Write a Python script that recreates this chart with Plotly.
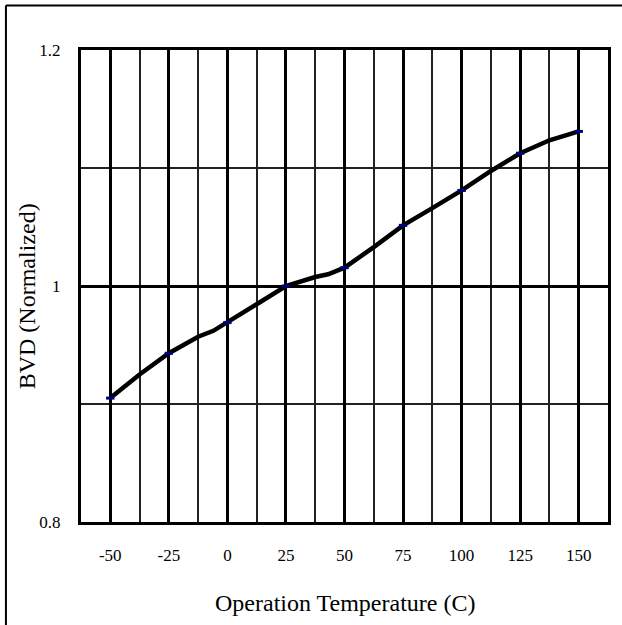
import plotly.graph_objects as go

# Data
temps_marker = [-50, -25, 0, 25, 50, 75, 100, 125, 150]
bvd_marker = [0.905, 0.943, 0.969, 1.0, 1.0155, 1.0514, 1.081, 1.1125, 1.131]

temps_line = [-50, -37.5, -25, -12.5, -6, 0, 12.5, 25, 37.5, 43, 50, 62.5, 75, 87.5, 100, 112.5, 125, 137.5, 150]
bvd_line = [0.905, 0.925, 0.943, 0.957, 0.962, 0.969, 0.9845, 1.0, 1.0076, 1.0099, 1.0155, 1.033,
            1.0514, 1.066, 1.081, 1.0975, 1.1125, 1.1235, 1.131]

x_ticks = [-50, -25, 0, 25, 50, 75, 100, 125, 150]
x_tick_text = ["-50", "-25", "0", "25", "50", "75", "100", "125", "150"]
y_ticks = [0.8, 1.0, 1.2]
y_tick_text = ["0.8", "1", "1.2"]

FONT = "Liberation Serif"

fig = go.Figure()
fig.add_trace(go.Scatter(x=temps_line, y=bvd_line, mode="lines",
                         line=dict(color="black", width=4.5), hoverinfo="skip"))
fig.add_trace(go.Scatter(x=temps_marker, y=bvd_marker, mode="markers",
                         marker=dict(symbol="line-ew", size=6,
                                     line=dict(width=3, color="#000080"))))

W, H = 622, 625
L, R, T, B = 81, 11, 50, 103
pw, ph = W - L - R, H - T - B

def px_x(px):
    return (px - L) / pw

def px_y(py):
    return (H - B - py) / ph

fig.update_layout(
    width=W, height=H,
    margin=dict(l=L, r=R, t=T, b=B),
    paper_bgcolor="white", plot_bgcolor="white",
    showlegend=False,
    font=dict(family=FONT, size=17, color="black"),
    xaxis=dict(range=[-62.5, 162.5], tickvals=x_ticks, ticktext=x_tick_text, ticks="",
               showgrid=True, gridcolor="black", gridwidth=3,
               minor=dict(dtick=12.5, tick0=-62.5, showgrid=True, gridcolor="#222222", gridwidth=1.5),
               showline=True, linecolor="black", linewidth=3, mirror=True,
               zeroline=False, ticklabelstandoff=16,
               tickfont=dict(family=FONT, size=17)),
    yaxis=dict(range=[0.8, 1.2], tickvals=y_ticks, ticktext=y_tick_text, ticks="",
               showgrid=True, gridcolor="black", gridwidth=3,
               minor=dict(dtick=0.1, tick0=0.8, showgrid=True, gridcolor="#222222", gridwidth=1.5),
               showline=True, linecolor="black", linewidth=3, mirror=True,
               zeroline=False, ticklabelstandoff=14,
               tickfont=dict(family=FONT, size=17)),
    annotations=[
        dict(text="Operation Temperature (C)", xref="paper", yref="paper",
             x=0.5, y=px_y(603), xanchor="center", yanchor="middle",
             showarrow=False, font=dict(family=FONT, size=24)),
        dict(text="BVD (Normalized)", xref="paper", yref="paper",
             x=px_x(27), y=px_y(296), xanchor="center", yanchor="middle",
             textangle=-90, showarrow=False, font=dict(family=FONT, size=24)),
    ],
    shapes=[
        dict(type="line", xref="paper", yref="paper",
             x0=px_x(5.5), x1=px_x(700), y0=px_y(5.5), y1=px_y(5.5),
             line=dict(color="black", width=2)),
        dict(type="line", xref="paper", yref="paper",
             x0=px_x(5.5), x1=px_x(5.5), y0=px_y(5.5), y1=px_y(700),
             line=dict(color="black", width=2)),
    ],
)

fig.write_html("out.html")
